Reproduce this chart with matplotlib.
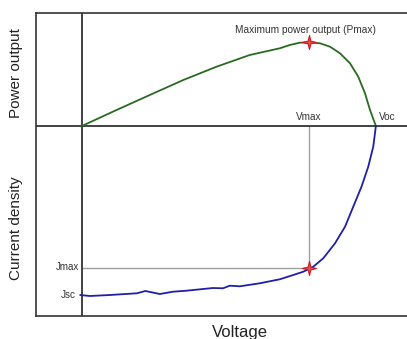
import matplotlib.pyplot as plt
from matplotlib.path import Path

plt.rcParams['font.family'] = ['Liberation Sans', 'DejaVu Sans']

# voltage as a fraction of Voc, outputs in arbitrary units
power_v = [0.0, 0.118, 0.231, 0.345, 0.458, 0.571, 0.673, 0.707, 0.741, 0.772, 0.810, 0.844,
           0.878, 0.912, 0.940, 0.963, 0.980, 1.0]
power_p = [0.0, 16, 31, 46, 59.3, 71, 77.7, 81, 83.3, 83.7, 82.7, 79.3,
           72.7, 62.7, 49.3, 32.7, 16, 0.0]

current_v = [-0.005, 0.027, 0.095, 0.187, 0.216, 0.265, 0.310, 0.356, 0.446, 0.480, 0.503, 0.537,
             0.605, 0.673, 0.719, 0.753, 0.772, 0.787, 0.821, 0.861, 0.895, 0.923, 0.951, 0.974,
             0.991, 1.0]
current_j = [-169, -170, -169, -167.3, -165, -168, -165.7, -164.7, -162, -162.3, -159.7, -160.3,
             -157.3, -153.3, -149, -145.7, -143, -140.7, -132.3, -117.3, -100.7, -80.7, -60.7, -40.7,
             -20.7, 0]

v_max = 0.772
p_max = 83.7
j_max = -141.5

fig = plt.figure(figsize=(4.07, 3.39), dpi=100)
ax = fig.add_axes([36 / 407, 23 / 339, 374 / 407, 303 / 339])
ax.set_xlim(-0.156, 1.116)
ax.set_ylim(-190, 113)
for s in ['top', 'left', 'bottom']:
    ax.spines[s].set_color('#333333')
    ax.spines[s].set_linewidth(1.2)
ax.spines['right'].set_visible(False)
ax.set_xticks([])
ax.set_yticks([])

ax.axhline(0, color='#333333', lw=1.3, zorder=2)
ax.axvline(0, color='#333333', lw=1.3, zorder=2)

# guide lines to the max power point
ax.plot([v_max, v_max], [0, j_max], color='#a0a0a0', lw=1, zorder=1)
ax.plot([0, v_max], [j_max, j_max], color='#a0a0a0', lw=1, zorder=1)

ax.plot(power_v, power_p, color='#2a6a22', lw=1.3, zorder=3)
ax.plot(current_v, current_j, color='#1f1fa8', lw=1.3, zorder=3)

# four pointed sparkle marker
star = Path([(0, 1), (0.2, 0.2), (1, 0), (0.2, -0.2), (0, -1), (-0.2, -0.2), (-1, 0), (-0.2, 0.2), (0, 1)])
ax.plot([v_max, v_max], [p_max, j_max], ls='none', marker=star, ms=10,
        mfc='#e05050', mec='#d01818', mew=0.8, zorder=4)

ax.text(v_max - 0.01, 96, 'Maximum power output (Pmax)', fontsize=7.3, color='#333333', ha='center', va='center')
ax.text(v_max, 9, 'Vmax', fontsize=7.2, color='#333333', ha='center', va='center')
ax.text(1.01, 9, 'Voc', fontsize=7.2, color='#333333', ha='left', va='center')
ax.text(-0.008, j_max + 1, 'Jmax', fontsize=7, color='#333333', ha='right', va='center')
ax.text(-0.02, -169, 'Jsc', fontsize=7.2, color='#333333', ha='right', va='center')

fig.text(16 / 407, 1 - 73 / 339, 'Power output', rotation=90, fontsize=11, ha='center', va='center', color='#222222')
fig.text(16 / 407, 1 - 228 / 339, 'Current density', rotation=90, fontsize=11, ha='center', va='center', color='#222222')
fig.text(240 / 407, 1 - 333 / 339, 'Voltage', fontsize=12, ha='center', va='center', color='#222222')

fig.savefig('out.png', dpi=100)
